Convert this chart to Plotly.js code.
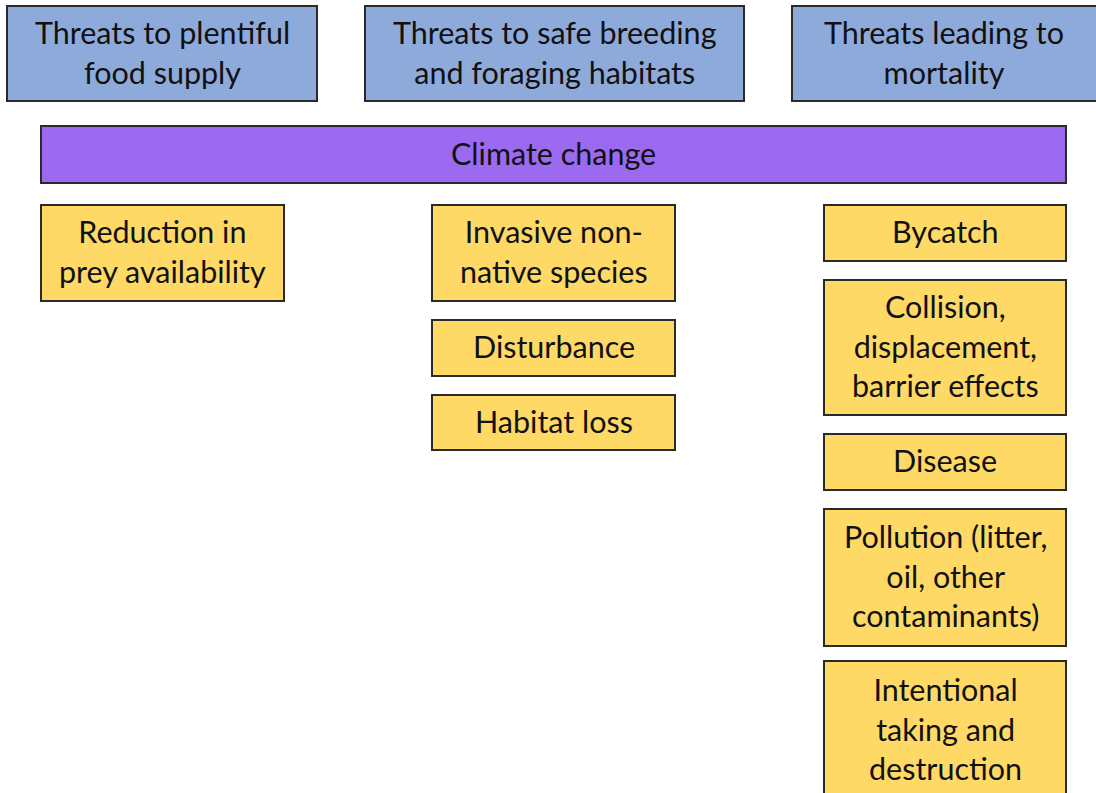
<!DOCTYPE html>
<html>
<head>
<meta charset="utf-8">
<script src="https://cdn.plot.ly/plotly-3.0.1.min.js"></script>
<style>html,body{margin:0;padding:0;background:#fff;}#chart{width:1096px;height:793px;}</style>
</head>
<body>
<div id="chart"></div>
<script>
// ---- content ----
const headerLabels = ["Threats to plentiful<br>food supply", "Threats to safe breeding<br>and foraging habitats", "Threats leading to<br>mortality"];
const bannerLabel = "Climate change";
const col1Items = ["Reduction in<br>prey availability"];
const col2Items = ["Invasive non-<br>native species", "Disturbance", "Habitat loss"];
const col3Items = ["Bycatch", "Collision,<br>displacement,<br>barrier effects", "Disease", "Pollution (litter,<br>oil, other<br>contaminants)", "Intentional<br>taking and<br>destruction"];

// ---- layout geometry (pixel-like units) ----
const headerX = [[7, 317], [365, 744], [792, 1097]];
const headerY = [6, 101];
const bannerX = [41, 1066];
const bannerY = [126, 183];
const colX = [[41, 284], [432, 675], [824, 1066]];
const col1Y = [[205, 301]];
const col2Y = [[205, 301], [320, 376], [395, 450]];
const col3Y = [[205, 261], [280, 415], [434, 490], [509, 646], [661, 800]];

const blue = "#8EAADB", purple = "#9C6AF1", yellow = "#FFD966", edge = "#2a2a2a";
const font = {family: "Lato, 'Open Sans', sans-serif", size: 30.5, color: "#111"};

const shapes = [], annotations = [];
function box(x, y, fill, text) {
  shapes.push({type: "rect", xref: "x", yref: "y", x0: x[0], x1: x[1], y0: y[0], y1: y[1],
    fillcolor: fill, line: {color: edge, width: 2}});
  annotations.push({xref: "x", yref: "y", x: (x[0] + Math.min(x[1], 1096)) / 2, y: (y[0] + Math.min(y[1], 793 + 20)) / 2 - 2,
    text: text, showarrow: false, font: font, align: "center", xanchor: "center", yanchor: "middle"});
}
headerLabels.forEach((t, i) => box(headerX[i], headerY, blue, t));
box(bannerX, bannerY, purple, bannerLabel);
col1Items.forEach((t, i) => box(colX[0], col1Y[i], yellow, t));
col2Items.forEach((t, i) => box(colX[1], col2Y[i], yellow, t));
col3Items.forEach((t, i) => box(colX[2], col3Y[i], yellow, t));

Plotly.newPlot("chart", [], {
  width: 1096, height: 793,
  margin: {l: 0, r: 0, t: 0, b: 0},
  paper_bgcolor: "#fff", plot_bgcolor: "#fff",
  xaxis: {range: [0, 1096], visible: false, fixedrange: true},
  yaxis: {range: [793, 0], visible: false, fixedrange: true},
  shapes: shapes, annotations: annotations, showlegend: false
}, {staticPlot: true});
</script>
</body>
</html>
